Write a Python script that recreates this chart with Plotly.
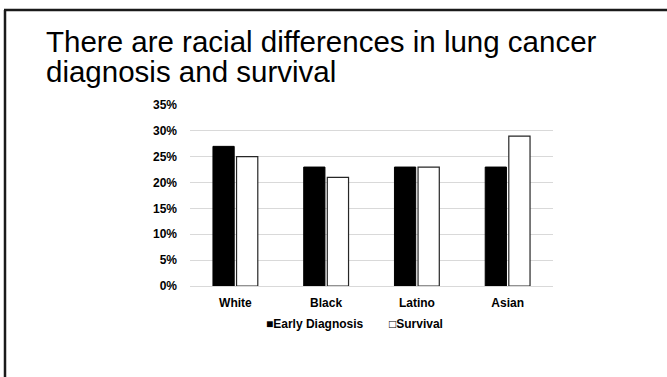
import plotly.graph_objects as go

# Chart data
groups = ["White", "Black", "Latino", "Asian"]
early_diagnosis = [0.27, 0.23, 0.23, 0.23]
survival = [0.25, 0.21, 0.23, 0.29]
y_ticks = [0, 0.05, 0.10, 0.15, 0.20, 0.25, 0.30, 0.35]
series_names = ["Early Diagnosis", "Survival"]
legend_glyphs = ["\u25A0", "\u25A1"]
title_lines = ["There are racial differences in lung cancer", "diagnosis and survival"]

W, H = 667, 377
PLOT_L, PLOT_R, PLOT_T, PLOT_B = 190, 553, 105, 286
FONT = "Liberation Sans, Arial, sans-serif"


def px_x(x):
    return (x - PLOT_L) / (PLOT_R - PLOT_L)


def px_y(y):
    return (PLOT_B - y) / (PLOT_B - PLOT_T)


fig = go.Figure()
fig.add_trace(go.Bar(
    name=series_names[0], x=groups, y=early_diagnosis,
    marker=dict(color="#000000", line=dict(color="#000000", width=1)),
))
fig.add_trace(go.Bar(
    name=series_names[1], x=groups, y=survival,
    marker=dict(color="#ffffff", line=dict(color="#262626", width=1.2)),
))

# Slide frame: top and left rules
shapes = [
    dict(type="line", xref="paper", yref="paper",
         x0=px_x(4), x1=px_x(W + 5), y0=px_y(10), y1=px_y(10),
         line=dict(color="#1a1a1a", width=2.5)),
    dict(type="line", xref="paper", yref="paper",
         x0=px_x(5), x1=px_x(5), y0=px_y(10), y1=px_y(H + 5),
         line=dict(color="#1a1a1a", width=2.5)),
]

title_font = dict(family=FONT, size=29.5, color="#000000")
annotations = [
    dict(text=title_lines[0], xref="paper", yref="paper", x=px_x(44), y=px_y(42),
         xanchor="left", yanchor="middle", showarrow=False, font=title_font),
    dict(text=title_lines[1], xref="paper", yref="paper", x=px_x(44), y=px_y(72),
         xanchor="left", yanchor="middle", showarrow=False, font=title_font),
]

# Compact legend row under the category labels
legend_font = dict(family=FONT, size=12, color="#000000", weight="bold")
for glyph, name, left in zip(legend_glyphs, series_names, [264, 387]):
    annotations.append(dict(
        text=glyph + name, xref="paper", yref="paper", x=px_x(left), y=px_y(324),
        xanchor="left", yanchor="middle", showarrow=False, font=legend_font,
    ))

fig.update_layout(
    width=W, height=H,
    margin=dict(l=PLOT_L, r=W - PLOT_R, t=PLOT_T, b=H - PLOT_B, pad=0),
    paper_bgcolor="#ffffff", plot_bgcolor="#ffffff",
    barmode="group", bargap=0.48, bargroupgap=0.1,
    font=dict(family=FONT, color="#000000"),
    shapes=shapes, annotations=annotations,
    showlegend=False,
    xaxis=dict(showgrid=False, showline=False, ticks="", ticklabelstandoff=8,
               tickfont=dict(family=FONT, size=12, color="#000000", weight="bold")),
    yaxis=dict(range=[0, 0.35], tickvals=y_ticks, tickformat=".0%",
               showgrid=True, gridcolor="#d9d9d9", gridwidth=1,
               zeroline=True, zerolinecolor="#d9d9d9", zerolinewidth=1,
               showline=False, ticks="", ticklabelstandoff=12,
               tickfont=dict(family=FONT, size=12, color="#000000", weight="bold")),
)

fig.write_html("out.html")
